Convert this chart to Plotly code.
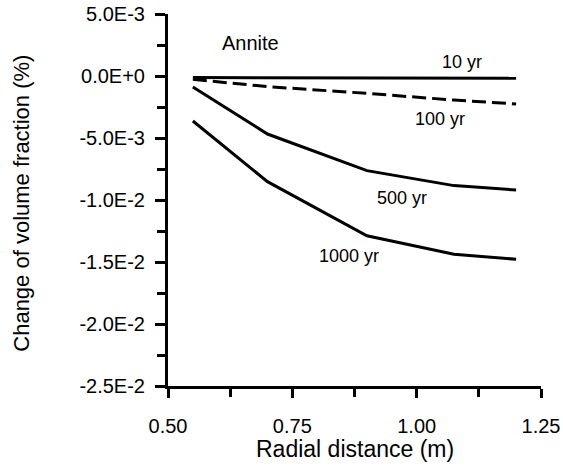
import plotly.graph_objects as go

radial_distance = [0.55, 0.70, 0.90, 1.075, 1.20]
change_10yr = [-0.00013, -0.00015, -0.00016, -0.00018, -0.00019]
change_100yr = [-0.00027, -0.00086, -0.00140, -0.00194, -0.00226]
change_500yr = [-0.00089, -0.00468, -0.00763, -0.00884, -0.00919]
change_1000yr = [-0.00363, -0.00852, -0.01288, -0.01438, -0.01478]

y_tick_vals = [0.005, 0.0, -0.005, -0.01, -0.015, -0.02, -0.025]
y_tick_text = ["5.0E-3", "0.0E+0", "-5.0E-3", "-1.0E-2", "-1.5E-2", "-2.0E-2", "-2.5E-2"]
y_minor_vals = [0.0025, -0.0025, -0.0075, -0.0125, -0.0175, -0.0225]
x_tick_vals = [0.50, 0.75, 1.00, 1.25]
x_tick_text = ["0.50", "0.75", "1.00", "1.25"]
x_minor_vals = [0.625, 0.875, 1.125]

series_labels = ["10 yr", "100 yr", "500 yr", "1000 yr"]
label_x = [1.091, 1.047, 0.971, 0.864]
label_y = [0.00113, -0.00347, -0.00984, -0.0145]

FONT = "Liberation Sans, Arial, sans-serif"

L, R, T, B = 168, 22, 14, 80
W, H = 563, 466
PW, PH = W - L - R, H - T - B

fig = go.Figure()
series = [change_10yr, change_100yr, change_500yr, change_1000yr]
dashes = ["solid", "14px,6px", "solid", "solid"]
for name, ys, d in zip(series_labels, series, dashes):
    fig.add_trace(go.Scatter(x=radial_distance, y=ys, mode="lines", name=name,
                             line=dict(color="black", width=3, dash=d)))

for t, lx, ly in zip(series_labels, label_x, label_y):
    fig.add_annotation(x=lx, y=ly, xref="x", yref="y", text=t, showarrow=False,
                       font=dict(family=FONT, size=18, color="black"))
fig.add_annotation(x=0.665, y=0.00266, xref="x", yref="y", text="Annite", showarrow=False,
                   font=dict(family=FONT, size=20, color="black"))

# axis titles
fig.add_annotation(x=0.5, y=-(449 - (H - B)) / PH, xref="paper", yref="paper",
                   text="Radial distance (m)", showarrow=False, xanchor="center", yanchor="middle",
                   font=dict(family=FONT, size=23, color="black"))
fig.add_annotation(x=-(L - 22) / PW, y=0.49, xref="paper", yref="paper",
                   text="Change of volume fraction (%)", showarrow=False, textangle=-90,
                   xanchor="center", yanchor="middle",
                   font=dict(family=FONT, size=22, color="black"))

fig.update_layout(
    width=W, height=H,
    margin=dict(l=L, r=R, t=T, b=B, autoexpand=False),
    paper_bgcolor="white", plot_bgcolor="white",
    showlegend=False,
    font=dict(family=FONT, color="black"),
)
fig.update_xaxes(
    range=[0.5, 1.25], showgrid=False, zeroline=False, automargin=False,
    showline=True, linecolor="black", linewidth=3,
    tickmode="array", tickvals=x_tick_vals, ticktext=x_tick_text,
    ticks="outside", ticklen=9, tickwidth=2.5, tickcolor="black",
    ticklabelstandoff=11,
    tickfont=dict(family=FONT, size=20, color="black"),
    minor=dict(tickmode="array", tickvals=x_minor_vals, ticks="outside",
               ticklen=8, tickwidth=2.5, tickcolor="black"),
)
fig.update_yaxes(
    range=[-0.025, 0.005], showgrid=False, zeroline=False, automargin=False,
    showline=True, linecolor="black", linewidth=3,
    tickmode="array", tickvals=y_tick_vals, ticktext=y_tick_text,
    ticks="outside", ticklen=10, tickwidth=2.5, tickcolor="black",
    ticklabelstandoff=6,
    tickfont=dict(family=FONT, size=20, color="black"),
    minor=dict(tickmode="array", tickvals=y_minor_vals, ticks="outside",
               ticklen=8, tickwidth=2.5, tickcolor="black"),
)

fig.write_html("out.html", config={"displayModeBar": False},
               post_script="document.body.style.margin='0';document.body.style.overflow='hidden';")
